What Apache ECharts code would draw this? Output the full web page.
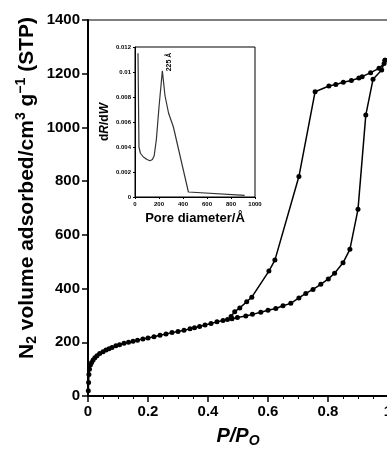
<!DOCTYPE html>
<html><head><meta charset="utf-8">
<script src="https://cdn.jsdelivr.net/npm/echarts@6/dist/echarts.min.js"></script>
<style>html,body{margin:0;padding:0;background:#fff}#c{width:387px;height:452px}</style>
</head><body><div id="c"></div>
<script>
// Adsorption branch (P/P0, volume cm3/g STP)
const adsP = [0.001,0.002,0.003,0.005,0.008,0.012,0.017,0.023,0.03,0.039,0.05,0.06,0.07,0.08,0.093,0.105,0.12,0.135,0.15,0.165,0.183,0.2,0.22,0.24,0.26,0.28,0.3,0.32,0.34,0.355,0.372,0.39,0.41,0.43,0.45,0.465,0.48,0.498,0.526,0.548,0.576,0.6,0.626,0.65,0.676,0.703,0.726,0.75,0.776,0.801,0.822,0.85,0.873,0.9,0.926,0.95,0.979,0.99];
const adsV = [20,50,80,100,115,125,134,142,150,158,165,171,176,181,187,191,196,200,204,208,212,216,221,226,231,236,240,245,250,254,259,264,270,276,281,285,288,292,298,304,312,319,326,336,345,365,382,397,416,436,457,496,546,695,1046,1179,1214,1250];
// Desorption branch
const desP = [0.99,0.987,0.97,0.942,0.914,0.903,0.878,0.851,0.826,0.803,0.757,0.703,0.623,0.603,0.546,0.529,0.506,0.489,0.477];
const desV = [1250,1238,1220,1204,1189,1184,1175,1168,1160,1154,1133,817,506,465,368,351,328,314,296];
// Inset: pore size distribution
const poreD = [25,33,45,70,100,125,145,160,178,200,228,250,280,320,445,914];
const poreDist = [0.0115,0.0040,0.0035,0.0032,0.0030,0.0029,0.0030,0.0033,0.0046,0.0072,0.0101,0.0081,0.0067,0.0056,0.0004,0.00013];
const peakLabel = '225 Å';

const zip = (a,b)=>a.map((v,i)=>[v,b[i]]);
const F = 'Liberation Sans, Arial, Helvetica, sans-serif';
const plain = v => String(v);
const chart = echarts.init(document.getElementById('c'));
chart.setOption({
  animation:false,
  backgroundColor:'#fff',
  grid:[
    {left:88, top:20, width:300, height:376, show:true, borderColor:'#000', borderWidth:1, containLabel:false, outerBoundsMode:'none'},
    {left:135, top:47, width:120, height:150, show:true, borderColor:'#000', borderWidth:1, z:5, containLabel:false, outerBoundsMode:'none'}
  ],
  xAxis:[
    {gridIndex:0, type:'value', min:0, max:1, interval:0.2,
     axisLine:{lineStyle:{color:'#000', width:2}},
     axisTick:{show:true, inside:false, length:6, lineStyle:{color:'#000', width:1.5}},
     minorTick:{show:true, splitNumber:4, length:3, lineStyle:{color:'#000'}},
     splitLine:{show:false},
     axisLabel:{color:'#000', fontFamily:F, fontWeight:'bold', fontSize:15, margin:8, formatter:plain},
     name:'{i|P/P}{s|O}', nameLocation:'middle', nameGap:28,
     nameTextStyle:{rich:{
       i:{fontFamily:F, fontWeight:'bold', fontStyle:'italic', fontSize:20, color:'#000'},
       s:{fontFamily:F, fontWeight:'bold', fontStyle:'italic', fontSize:14, color:'#000', padding:[10,0,0,0]}
     }}},
    {gridIndex:1, type:'value', min:0, max:1000, interval:200,
     axisLine:{lineStyle:{color:'#000', width:1}},
     axisTick:{show:true, length:2, lineStyle:{color:'#000'}},
     splitLine:{show:false},
     axisLabel:{color:'#000', fontFamily:F, fontWeight:'bold', fontSize:6, margin:4, formatter:plain},
     name:'Pore diameter/Å', nameLocation:'middle', nameGap:15,
     nameTextStyle:{color:'#000', fontFamily:F, fontWeight:'bold', fontSize:13}}
  ],
  yAxis:[
    {gridIndex:0, type:'value', min:0, max:1400, interval:200,
     axisLine:{lineStyle:{color:'#000', width:2}},
     axisTick:{show:true, length:6, lineStyle:{color:'#000', width:1.5}},
     splitLine:{show:false},
     axisLabel:{color:'#000', fontFamily:F, fontWeight:'bold', fontSize:15, margin:8, formatter:plain}},
    {gridIndex:1, type:'value', min:0, max:0.012, interval:0.002,
     axisLine:{lineStyle:{color:'#000', width:1}},
     axisTick:{show:true, length:2, lineStyle:{color:'#000'}},
     splitLine:{show:false},
     axisLabel:{color:'#000', fontFamily:F, fontWeight:'bold', fontSize:6, margin:4, formatter:plain},
     name:'d{i|R}/d{i|W}', nameLocation:'middle', nameGap:24,
     nameTextStyle:{color:'#000', fontFamily:F, fontSize:12, fontWeight:'bold',
       rich:{i:{fontFamily:F, fontSize:12, fontStyle:'italic', fontWeight:'bold', color:'#000'}}}}
  ],
  series:[
    {type:'line', xAxisIndex:0, yAxisIndex:0, data:zip(adsP,adsV), symbol:'circle', symbolSize:5,
     lineStyle:{color:'#000', width:1.5}, itemStyle:{color:'#000'}, z:3},
    {type:'line', xAxisIndex:0, yAxisIndex:0, data:zip(desP,desV), symbol:'circle', symbolSize:5,
     lineStyle:{color:'#000', width:1.5}, itemStyle:{color:'#000'}, z:3},
    {type:'line', xAxisIndex:1, yAxisIndex:1, data:zip(poreD,poreDist), symbol:'none',
     lineStyle:{color:'#333', width:1.2}, z:6}
  ],
  graphic:[
    {type:'text', x:169, y:62, rotation:Math.PI/2, z:10,
     style:{text:peakLabel, fill:'#000', font:'bold 7px '+F, align:'center', verticalAlign:'middle'}},
    {type:'text', x:27, y:188, rotation:Math.PI/2, z:10,
     style:{text:'{n|N}{s|2}{n| volume adsorbed/cm}{p|3}{n| g}{p|−1}{n| (STP)}',
       align:'center', verticalAlign:'middle',
       rich:{
         n:{fontFamily:F, fontWeight:'bold', fontSize:21, fill:'#000'},
         s:{fontFamily:F, fontWeight:'bold', fontSize:14, fill:'#000', padding:[11,0,0,0]},
         p:{fontFamily:F, fontWeight:'bold', fontSize:14, fill:'#000', padding:[0,0,11,0]}
       }}}
  ]
});
</script></body></html>
